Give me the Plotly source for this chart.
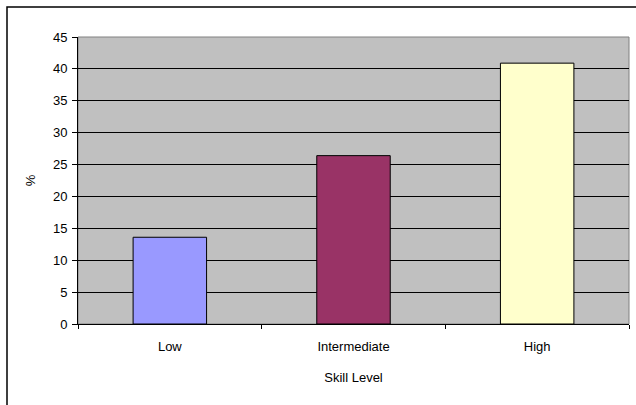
import plotly.graph_objects as go

# Share of respondents by skill level
categories = ["Low", "Intermediate", "High"]
percent = [13.6, 26.4, 40.9]
bar_colors = ["#9999FF", "#993366", "#FFFFCC"]
y_ticks = [0, 5, 10, 15, 20, 25, 30, 35, 40, 45]

W, H = 636, 405
ML, MR, MT, MB = 78, 7, 37, 81
pw = W - ML - MR
ph = H - MT - MB

fig = go.Figure(
    go.Bar(
        x=categories,
        y=percent,
        width=0.4,
        marker=dict(color=bar_colors, line=dict(color="#000000", width=1)),
        hoverinfo="x+y",
    )
)

font = dict(family="Liberation Sans, Arial, sans-serif", size=13, color="#000000")

fig.update_layout(
    width=W,
    height=H,
    margin=dict(l=ML, r=MR, t=MT, b=MB, pad=0),
    paper_bgcolor="#FFFFFF",
    plot_bgcolor="#C0C0C0",
    font=font,
    showlegend=False,
    bargap=0.6,
    xaxis=dict(
        type="category",
        showgrid=False,
        showline=True,
        linecolor="#000000",
        linewidth=1,
        ticks="outside",
        tickson="boundaries",
        ticklen=4,
        tickcolor="#000000",
        ticklabelstandoff=10,
        title=dict(text="Skill Level", standoff=20, font=font),
        tickfont=font,
    ),
    yaxis=dict(
        range=[0, 45],
        tickvals=y_ticks,
        showgrid=True,
        gridcolor="#000000",
        gridwidth=1,
        zeroline=False,
        showline=True,
        linecolor="#000000",
        linewidth=1,
        ticks="outside",
        ticklen=5,
        tickcolor="#000000",
        ticklabelstandoff=2,
        title=dict(text="%", standoff=14, font=font),
        tickfont=font,
    ),
    shapes=[
        # plot area frame (top and right edges in grey)
        dict(type="rect", xref="paper", yref="paper", x0=0, x1=1, y0=0, y1=1,
             line=dict(color="#808080", width=1), layer="below"),
        # outer chart frame
        dict(type="rect", xref="paper", yref="paper",
             x0=(7 - ML) / pw, x1=(W + 5 - ML) / pw,
             y0=(H - MB - (H + 5)) / ph, y1=(H - MB - 7) / ph,
             line=dict(color="#000000", width=1.5), layer="above"),
    ],
)

fig.write_html("out.html")
